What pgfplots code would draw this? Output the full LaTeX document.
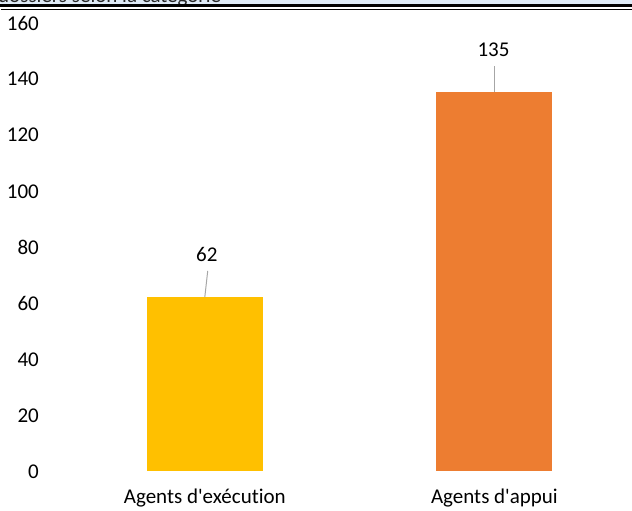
\documentclass[border=0pt]{standalone}
\usepackage{pgfplots}
\pgfplotsset{compat=1.18}
\usepackage{fontspec}
\setmainfont{Carlito}[Ligatures={NoCommon}]
\definecolor{jaune}{HTML}{FFC000}
\definecolor{orange}{HTML}{ED7D31}
\definecolor{bande}{HTML}{DEEAF6}
\definecolor{trait}{HTML}{A6A6A6}
\newcommand{\lbl}{\fontsize{21bp}{25bp}\selectfont}
\begin{document}
\begin{tikzpicture}
\useasboundingbox (0,0) rectangle (632bp,511bp);
% bandeau du titre, coupe en haut
\fill[bande] (0,507bp) rectangle (632bp,511bp);
\begin{scope}
  \clip (0,507bp) rectangle (632bp,511bp);
  \node[anchor=base west, inner sep=0pt, text=black!85] at (-2bp,508bp) {\lbl dossiers selon la catégorie};
\end{scope}
\draw[black, line width=2.7bp] (0,505.7bp) -- (632bp,505.7bp);
\draw[black, line width=0.9bp] (1bp,501.8bp) -- (632bp,501.8bp);
\begin{axis}[
    at={(60bp,40bp)}, anchor=south west,
    scale only axis,
    width=572bp, height=449bp,
    xmin=-0.5, xmax=1.475,
    ymin=0, ymax=160,
    axis line style={draw=none},
    ytick={0,20,...,160},
    xtick={0,1},
    xticklabels={Agents d\textquotesingle exécution, Agents d\textquotesingle appui},
    major tick length=0pt,
    tick style={draw=none},
    /pgf/number format/assume math mode=true,
    yticklabel style={font=\lbl, anchor=east, inner sep=0pt, xshift=-21bp, yshift=-1bp},
    xticklabel style={font=\lbl, anchor=base, inner sep=0pt, yshift=-33bp},
    ybar, bar width=116bp, bar shift=0pt,
    clip=false,
]
\addplot[fill=jaune, draw=none] coordinates {(0,62)};
\addplot[fill=orange, draw=none] coordinates {(1,135)};
\draw[trait, line width=1bp] (axis cs:0,62) -- (axis cs:0.01,71.3);
\draw[trait, line width=1bp] (axis cs:1,135) -- (axis cs:1,144.3);
\node[anchor=base, inner sep=0pt, font=\lbl] at (axis cs:0.007,74.8) {62};
\node[anchor=base, inner sep=0pt, font=\lbl] at (axis cs:0.997,147.8) {135};
\end{axis}
\end{tikzpicture}
\end{document}
